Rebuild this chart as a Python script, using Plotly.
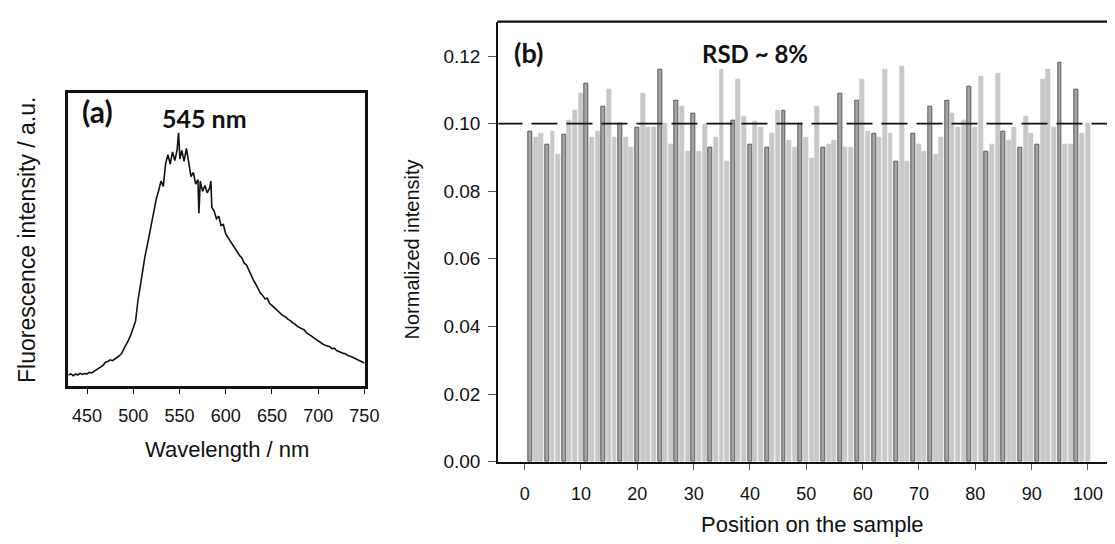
import plotly.graph_objects as go

# ---------------- Panel (a): emission spectrum ----------------
wavelength = [430.0, 432.5, 435.0, 437.5, 440.0, 442.5, 445.0, 447.5, 450.0, 452.5, 455.0, 457.5,
              460.0, 462.5, 465.0, 467.5, 470.0, 472.5, 475.0, 477.5, 480.0, 482.5, 485.0, 487.5,
              490.0, 492.5, 495.0, 497.5, 500.0, 502.5, 505.0, 507.5, 510.0, 512.5, 515.0, 517.5,
              520.0, 522.5, 525.0, 527.5, 530.0, 532.5, 535.0, 537.5, 540.0, 542.5, 545.0, 547.5,
              549.0, 550.5, 552.5, 555.0, 557.5, 560.0, 562.5, 565.0, 567.5, 570.0, 571.0, 572.5,
              575.0, 577.5, 580.0, 582.5, 584.0, 585.0, 587.5, 590.0, 592.5, 595.0, 597.5, 600.0,
              602.5, 605.0, 607.5, 610.0, 612.5, 615.0, 617.5, 620.0, 622.5, 625.0, 627.5, 630.0,
              632.5, 635.0, 637.5, 640.0, 642.5, 645.0, 647.5, 650.0, 652.5, 655.0, 657.5, 660.0,
              662.5, 665.0, 667.5, 670.0, 672.5, 675.0, 677.5, 680.0, 682.5, 685.0, 687.5, 690.0,
              692.5, 695.0, 697.5, 700.0, 702.5, 705.0, 707.5, 710.0, 712.5, 715.0, 717.5, 720.0,
              722.5, 725.0, 727.5, 730.0, 732.5, 735.0, 737.5, 740.0, 742.5, 745.0, 747.5, 750.0]
fluorescence = [0.038, 0.042, 0.036, 0.041, 0.039, 0.044, 0.040, 0.043, 0.042, 0.047, 0.045, 0.050,
                0.055, 0.058, 0.066, 0.072, 0.082, 0.084, 0.090, 0.087, 0.094, 0.098, 0.104, 0.112,
                0.128, 0.142, 0.158, 0.176, 0.198, 0.222, 0.290, 0.345, 0.400, 0.440, 0.478, 0.520,
                0.565, 0.600, 0.640, 0.668, 0.700, 0.682, 0.760, 0.790, 0.758, 0.800, 0.770, 0.808,
                0.865, 0.775, 0.805, 0.768, 0.812, 0.765, 0.715, 0.730, 0.690, 0.705, 0.590, 0.700,
                0.665, 0.685, 0.660, 0.675, 0.700, 0.610, 0.598, 0.572, 0.580, 0.548, 0.552, 0.520,
                0.508, 0.492, 0.484, 0.470, 0.458, 0.446, 0.438, 0.420, 0.414, 0.395, 0.380, 0.362,
                0.348, 0.330, 0.318, 0.310, 0.298, 0.300, 0.282, 0.276, 0.268, 0.262, 0.252, 0.246,
                0.240, 0.236, 0.228, 0.224, 0.216, 0.212, 0.204, 0.200, 0.194, 0.192, 0.182, 0.178,
                0.172, 0.166, 0.160, 0.156, 0.148, 0.144, 0.140, 0.138, 0.135, 0.128, 0.130, 0.122,
                0.118, 0.114, 0.112, 0.110, 0.104, 0.102, 0.098, 0.094, 0.090, 0.088, 0.082, 0.079]
wl_ticks = [450, 500, 550, 600, 650, 700, 750]

# ---------------- Panel (b): normalized intensity per position ----------------
positions = list(range(1, 101))
norm_intensity = [
    0.0976, 0.0957, 0.0969, 0.0938, 0.0976, 0.0907, 0.0968, 0.1009, 0.1038, 0.1088,
    0.1118, 0.0957, 0.0976, 0.1049, 0.1100, 0.0957, 0.0999, 0.0957, 0.0928, 0.0988,
    0.1088, 0.0988, 0.0988, 0.1159, 0.0999, 0.0938, 0.1069, 0.1049, 0.0916, 0.1029,
    0.0916, 0.0997, 0.0928, 0.0957, 0.1159, 0.0888, 0.1009, 0.1129, 0.1019, 0.0938,
    0.1007, 0.0988, 0.0928, 0.0969, 0.1038, 0.1038, 0.0948, 0.0928, 0.0999, 0.0957,
    0.0897, 0.1049, 0.0928, 0.0938, 0.0948, 0.1088, 0.0928, 0.0928, 0.1069, 0.1129,
    0.0976, 0.0969, 0.0957, 0.1159, 0.0969, 0.0888, 0.1169, 0.0888, 0.0969, 0.0938,
    0.0916, 0.1049, 0.0907, 0.0957, 0.1069, 0.1029, 0.0988, 0.1009, 0.1109, 0.0988,
    0.1138, 0.0916, 0.0938, 0.1149, 0.0976, 0.0948, 0.0988, 0.0928, 0.1019, 0.0969,
    0.0938, 0.1129, 0.1159, 0.0988, 0.1180, 0.0938, 0.0938, 0.1100, 0.0969, 0.0999,
]
mean_level = 0.10
pos_ticks = [0, 10, 20, 30, 40, 50, 60, 70, 80, 90, 100]
ni_ticks = [0.00, 0.02, 0.04, 0.06, 0.08, 0.10, 0.12]

W, H = 1115, 544
SANS = "Liberation Sans, Arial, sans-serif"
TICK_FONT = dict(family=SANS, size=18, color="#111111")
YTICK_FONT = dict(family=SANS, size=19, color="#111111")
BOLD_FAMILY = "Lato, Open Sans, sans-serif"

# bar shading (alternating anti-aliasing look of the original)
dark_set = {int(round(1 + k * 3.23)) for k in range(40)}
fill_cols = ["#a4a4a4" if p in dark_set else "#c8c8c8" for p in positions]
line_cols = ["#5a5a5a" if p in dark_set else "#c8c8c8" for p in positions]

fig = go.Figure()

fig.add_trace(go.Scatter(x=wavelength, y=fluorescence, mode="lines",
                         line=dict(color="#111111", width=1.6),
                         xaxis="x", yaxis="y", showlegend=False))

fig.add_trace(go.Bar(x=positions, y=norm_intensity, width=0.7,
                     marker=dict(color=fill_cols, line=dict(color=line_cols, width=1)),
                     xaxis="x2", yaxis="y2", showlegend=False))

fig.add_trace(go.Scatter(x=[-5, 104], y=[mean_level, mean_level], mode="lines",
                         line=dict(color="#111111", width=1.6, dash="26px,9px"),
                         xaxis="x2", yaxis="y2", showlegend=False))

# domains from pixel geometry
ax_l, ax_r, ax_t, ax_b = 60.7, 361.7, 87, 386
bx_l, bx_r, bx_t, bx_b = 497, 1115, 14, 463

fig.update_layout(
    width=W, height=H, autosize=False,
    margin=dict(l=0, r=0, t=0, b=0),
    paper_bgcolor="white", plot_bgcolor="white",
    bargap=0,
    xaxis=dict(domain=[ax_l / W, ax_r / W], range=[429.3, 750.5],
               tickvals=wl_ticks, ticks="outside", ticklen=5, tickwidth=1.2,
               tickcolor="#111111", tickfont=TICK_FONT, ticklabelstandoff=6,
               showline=True, linecolor="#111111", linewidth=2.5, mirror=True,
               showgrid=False, zeroline=False),
    yaxis=dict(domain=[1 - ax_b / H, 1 - ax_t / H], range=[0, 1],
               showticklabels=False, ticks="",
               showline=True, linecolor="#111111", linewidth=2.5, mirror=True,
               showgrid=False, zeroline=False),
    xaxis2=dict(domain=[bx_l / W, 1.0], anchor="y2",
                range=[(bx_l - 523.7) / 5.71, (bx_r - 523.7) / 5.71],
                tickvals=pos_ticks, ticks="outside", ticklen=6, tickwidth=1,
                tickcolor="#555555", tickfont=TICK_FONT, ticklabelstandoff=9,
                showline=True, linecolor="#111111", linewidth=2.2,
                showgrid=False, zeroline=False),
    yaxis2=dict(domain=[1 - bx_b / H, 1 - bx_t / H], anchor="x2",
                range=[0, 0.12 * (bx_b - bx_t) / (bx_b - 49)],
                tickvals=ni_ticks, tickformat=".2f", ticks="outside", ticklen=8,
                tickwidth=1, tickcolor="#555555", tickfont=YTICK_FONT,
                ticklabelstandoff=4,
                showline=True, linecolor="#111111", linewidth=2.2,
                showgrid=False, zeroline=False),
    shapes=[dict(type="line", xref="paper", yref="paper",
                 x0=(bx_l - 1) / W, x1=1.0, y0=1 - bx_t / H, y1=1 - bx_t / H,
                 line=dict(color="#111111", width=2.2))],
    annotations=[
        dict(text="<b>(a)</b>", x=91 / W, y=1 - 105 / H, xref="paper", yref="paper",
             showarrow=False, font=dict(family=BOLD_FAMILY, size=30, color="#111111"),
             xanchor="center", yanchor="middle"),
        dict(text="<b>545 nm</b>", x=199 / W, y=1 - 112 / H, xref="paper", yref="paper",
             showarrow=False, font=dict(family=BOLD_FAMILY, size=25, color="#111111"),
             xanchor="center", yanchor="middle"),
        dict(text="Wavelength / nm", x=222 / W, y=1 - 451 / H, xref="paper", yref="paper",
             showarrow=False, font=dict(family=SANS, size=22, color="#111111"),
             xanchor="center", yanchor="middle"),
        dict(text="Fluorescence intensity / a.u.", x=19 / W, y=1 - 237 / H,
             xref="paper", yref="paper", showarrow=False,
             font=dict(family=SANS, size=23, color="#111111"),
             textangle=-90, xanchor="center", yanchor="middle"),
        dict(text="<b>(b)</b>", x=528 / W, y=1 - 45 / H, xref="paper", yref="paper",
             showarrow=False, font=dict(family=BOLD_FAMILY, size=27, color="#111111"),
             xanchor="center", yanchor="middle"),
        dict(text="<b>RSD ~ 8%</b>", x=757 / W, y=1 - 46 / H, xref="paper", yref="paper",
             showarrow=False, font=dict(family=BOLD_FAMILY, size=24, color="#111111"),
             xanchor="center", yanchor="middle"),
        dict(text="Normalized intensity", x=410 / W, y=1 - 246 / H,
             xref="paper", yref="paper", showarrow=False,
             font=dict(family=SANS, size=20, color="#111111"),
             textangle=-90, xanchor="center", yanchor="middle"),
        dict(text="Position on the sample", x=815 / W, y=1 - 527 / H,
             xref="paper", yref="paper", showarrow=False,
             font=dict(family=SANS, size=22, color="#111111"),
             xanchor="center", yanchor="middle"),
    ],
)

fig.write_html("out.html")
